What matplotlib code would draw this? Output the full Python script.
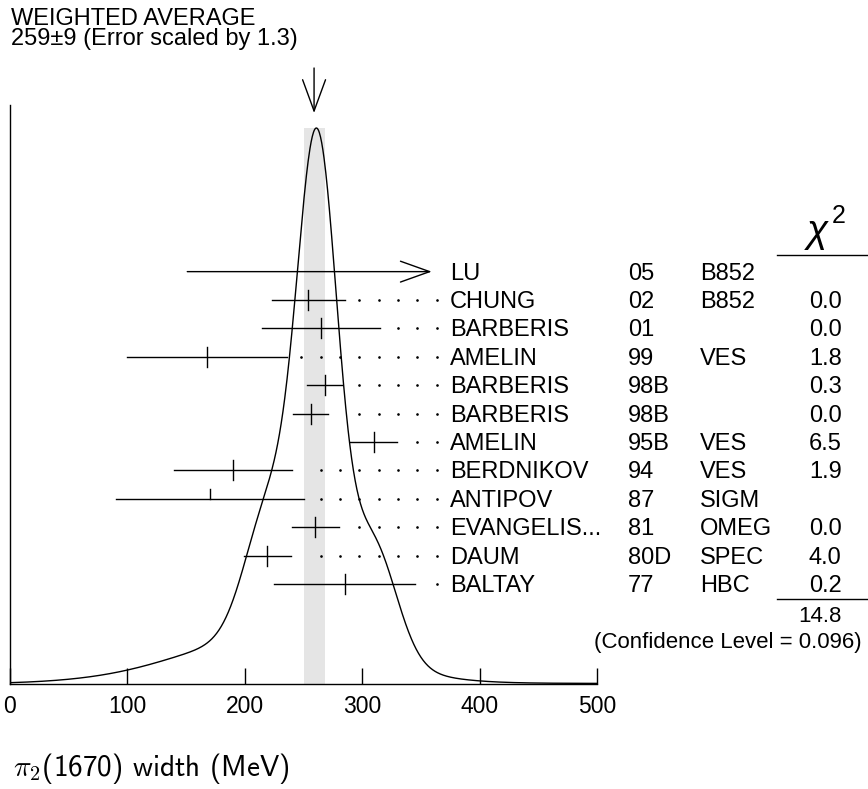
import numpy as np
import matplotlib.pyplot as plt

plt.rcParams["font.family"] = ["Liberation Sans", "DejaVu Sans"]
plt.rcParams["mathtext.fontset"] = "cm"

# measurements, top row first
names = ["LU", "CHUNG", "BARBERIS", "AMELIN", "BARBERIS", "BARBERIS",
         "AMELIN", "BERDNIKOV", "ANTIPOV", "EVANGELIS...", "DAUM", "BALTAY"]
years = ["05", "02", "01", "99", "98B", "98B", "95B", "94", "87", "81", "80D", "77"]
exps = ["B852", "B852", "", "VES", "", "", "VES", "VES", "SIGM", "OMEG", "SPEC", "HBC"]
chi2 = ["", "0.0", "0.0", "1.8", "0.3", "0.0", "6.5", "1.9", "", "0.0", "4.0", "0.2"]
values = [408, 254, 265, 168, 268, 256, 310, 190, 170, 260, 219, 285]
errors = [257, 31, 50, 68, 15, 15, 20, 50, 80, 20, 20, 60]

avg = 259
avg_err = 9
chi2_total = "14.8"
conf_level = "0.096"
xticks = [0, 100, 200, 300, 400, 500]

W, H = 868, 789
fig = plt.figure(figsize=(W / 100, H / 100), dpi=100)
ax = fig.add_axes([10 / W, 105 / H, 587 / W, 579 / H])

row_h = 28.4          # pixels per row
px = 587 / 500        # pixels per MeV
ax.set_xlim(0, 500)
ax.set_ylim(0, 579 / row_h)

n = len(names)
rows = 3.52 + np.arange(n)[::-1]

# ideogram: gaussians with area ~ 1/sigma
x = np.linspace(0, 500, 1001)
ideo = np.zeros_like(x)
for v, e in zip(values, errors):
    ideo += np.exp(-0.5 * ((x - v) / e) ** 2) / e ** 2
peak_h = (684 - 128) / row_h
ideo = ideo / ideo.max() * peak_h

ax.fill_between([avg - avg_err, avg + avg_err], 0, peak_h, color="#e5e5e5", lw=0, zorder=0)
ax.plot(x, ideo, color="black", lw=1.0, zorder=3)

dot_end = (436.7 - 10) / px
dot_step = 19.33 / px
col_name = (450 - 10) / px
col_year = (628 - 10) / px
col_exp = (700 - 10) / px
col_chi = (841.7 - 10) / px
fs = 17
txt_off = 8.0 / row_h

for i in range(n):
    y = rows[i]
    v, e = values[i], errors[i]
    lo, hi = v - e, v + e
    if hi > 500:
        ax.annotate("", xy=(dot_end - 5 / px, y), xytext=(lo, y),
                    arrowprops=dict(arrowstyle="->,head_length=1.4,head_width=0.5",
                                    lw=1.0, color="black", shrinkA=0, shrinkB=0,
                                    mutation_scale=15))
    else:
        ax.plot([lo, hi], [y, y], color="black", lw=1.0, zorder=4)
        if chi2[i] == "":
            ax.plot([v, v], [y, y + 0.35], color="black", lw=1.0, zorder=4)
        else:
            ax.plot([v, v], [y - 0.35, y + 0.35], color="black", lw=1.0, zorder=4)
        dots = dot_end - dot_step * np.arange(25)
        dots = dots[dots > hi + 10.5]
        ax.plot(dots, np.full(len(dots), y), ls="none", marker="o",
                ms=0.9, color="black", clip_on=False)
    ax.text(col_name, y - txt_off, names[i], fontsize=fs, va="baseline", ha="left")
    ax.text(col_year, y - txt_off, years[i], fontsize=fs, va="baseline", ha="left")
    ax.text(col_exp, y - txt_off, exps[i], fontsize=fs, va="baseline", ha="left")
    ax.text(col_chi, y - txt_off, chi2[i], fontsize=fs, va="baseline", ha="right")

# chi2 column header, sum line
line_x = [(777 - 10) / px, (868 - 10) / px]
ax.plot(line_x, [(684 - 255) / row_h] * 2, color="black", lw=1.0, clip_on=False)
ax.plot(line_x, [(684 - 599) / row_h] * 2, color="black", lw=1.0, clip_on=False)
ax.text((817.5 - 10) / px, (684 - 242) / row_h, "\u03c7", fontsize=28, style="italic",
        ha="center", va="baseline")
ax.text((831.5 - 10) / px, (684 - 223) / row_h, "2", fontsize=18,
        ha="left", va="baseline")
ax.text(col_chi, (684 - 622) / row_h, chi2_total, fontsize=16, ha="right", va="baseline")
ax.text((861.7 - 10) / px, (684 - 648) / row_h,
        "(Confidence Level = " + conf_level + ")", fontsize=16, ha="right", va="baseline")

# weighted average arrow
ax.annotate("", xy=(avg, (684 - 113) / row_h), xytext=(avg, (684 - 68) / row_h),
            annotation_clip=False,
            arrowprops=dict(arrowstyle="->,head_length=1.5,head_width=0.55",
                            lw=1.0, color="black", shrinkA=0, shrinkB=0,
                            mutation_scale=15))

fig.text(11 / W, 1 - 25 / H, "WEIGHTED AVERAGE", fontsize=fs, va="baseline")
fig.text(11 / W, 1 - 45.5 / H, "%d\u00b1%d (Error scaled by 1.3)" % (avg, avg_err),
         fontsize=fs, va="baseline")
fig.text(13 / W, 1 - 768 / H, r"$\pi_{\mathsf{2}}$(1670) width (MeV)",
         family="cmss10", fontsize=21, va="center", ha="left")

ax.set_xticks(xticks)
ax.set_xticklabels([str(t) for t in xticks])
ax.set_yticks([])
ax.tick_params(axis="x", direction="in", length=11.5, width=1.0, labelsize=16.5, pad=8)
for s in ["top", "right"]:
    ax.spines[s].set_visible(False)
for s in ["left", "bottom"]:
    ax.spines[s].set_linewidth(1.0)

fig.savefig("out.png", dpi=100)
